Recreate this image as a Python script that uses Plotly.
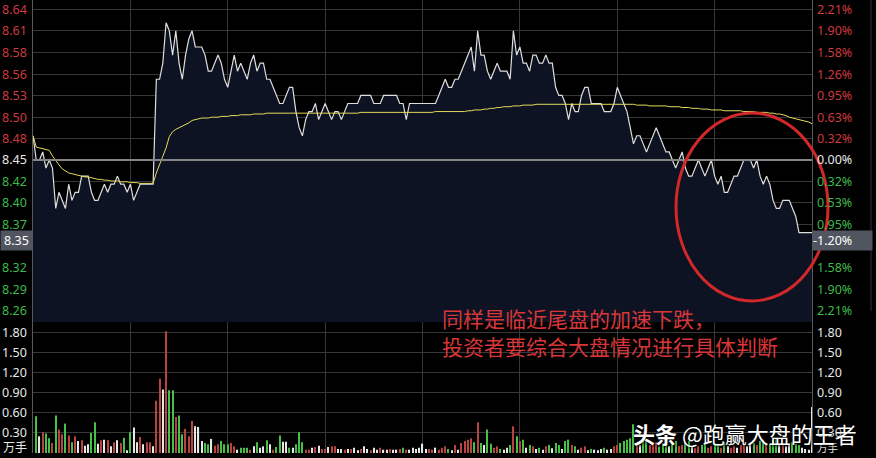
import plotly.graph_objects as go

# ---------------- data ----------------
prev_close = 8.45
current_label = 8.35

price = [
    8.48, 8.45, 8.45, 8.46, 8.44, 8.45, 8.44, 8.39, 8.41, 8.40,
    8.39, 8.42, 8.40, 8.41, 8.41, 8.43, 8.43, 8.43, 8.41, 8.40,
    8.40, 8.41, 8.42, 8.41, 8.42, 8.42, 8.43, 8.42, 8.42, 8.41,
    8.42, 8.40, 8.41, 8.42, 8.42, 8.42, 8.42, 8.42, 8.55, 8.55,
    8.57, 8.62, 8.61, 8.58, 8.61, 8.57, 8.55, 8.58, 8.60, 8.61,
    8.59, 8.59, 8.59, 8.58, 8.56, 8.56, 8.57, 8.58, 8.57, 8.55,
    8.54, 8.56, 8.58, 8.56, 8.57, 8.56, 8.55, 8.57, 8.58, 8.56,
    8.57, 8.57, 8.55, 8.55, 8.54, 8.53, 8.52, 8.52, 8.53, 8.54,
    8.54, 8.51, 8.49, 8.48, 8.50, 8.51, 8.51, 8.52, 8.50, 8.51,
    8.52, 8.51, 8.50, 8.51, 8.51, 8.50, 8.51, 8.52, 8.52, 8.52,
    8.52, 8.53, 8.53, 8.53, 8.53, 8.52, 8.52, 8.52, 8.53, 8.53,
    8.53, 8.53, 8.53, 8.52, 8.52, 8.50, 8.52, 8.52, 8.52, 8.52,
    8.52, 8.52, 8.52, 8.52, 8.52, 8.53, 8.54, 8.55, 8.54, 8.54,
    8.55, 8.55, 8.56, 8.57, 8.58, 8.59, 8.56, 8.61, 8.58, 8.58,
    8.56, 8.55, 8.56, 8.57, 8.56, 8.56, 8.56, 8.55, 8.61, 8.58,
    8.59, 8.57, 8.57, 8.56, 8.58, 8.58, 8.57, 8.57, 8.58, 8.57,
    8.57, 8.54, 8.53, 8.53, 8.52, 8.50, 8.52, 8.51, 8.51, 8.53,
    8.54, 8.54, 8.52, 8.52, 8.52, 8.52, 8.51, 8.51, 8.51, 8.52,
    8.54, 8.53, 8.52, 8.51, 8.49, 8.47, 8.48, 8.48, 8.47, 8.46,
    8.47, 8.48, 8.49, 8.48, 8.47, 8.46, 8.46, 8.45, 8.44, 8.45,
    8.46, 8.44, 8.43, 8.43, 8.44, 8.45, 8.44, 8.43, 8.44, 8.45,
    8.43, 8.42, 8.43, 8.41, 8.41, 8.42, 8.43, 8.43, 8.44, 8.45,
    8.45, 8.45, 8.44, 8.45, 8.43, 8.42, 8.43, 8.42, 8.40, 8.39,
    8.39, 8.40, 8.40, 8.40, 8.39, 8.38, 8.36, 8.36, 8.36, 8.36,
    8.36,
]

avg_price = [
    8.480, 8.466, 8.465, 8.464, 8.463, 8.462, 8.455, 8.449, 8.444, 8.439,
    8.436, 8.434, 8.433, 8.432, 8.431, 8.430, 8.429, 8.429, 8.428, 8.427,
    8.426, 8.426, 8.425, 8.425, 8.424, 8.424, 8.424, 8.423, 8.423, 8.423,
    8.422, 8.422, 8.422, 8.421, 8.421, 8.421, 8.421, 8.421, 8.434, 8.445,
    8.455, 8.465, 8.479, 8.485, 8.488, 8.490, 8.492, 8.493, 8.496, 8.499,
    8.500, 8.501, 8.502, 8.502, 8.502, 8.503, 8.503, 8.503, 8.504, 8.504,
    8.504, 8.505, 8.505, 8.505, 8.506, 8.506, 8.506, 8.506, 8.507, 8.507,
    8.507, 8.507, 8.508, 8.508, 8.508, 8.508, 8.508, 8.508, 8.508, 8.508,
    8.508, 8.508, 8.508, 8.508, 8.508, 8.508, 8.508, 8.508, 8.508, 8.508,
    8.508, 8.508, 8.508, 8.508, 8.508, 8.508, 8.508, 8.508, 8.508, 8.508,
    8.508, 8.509, 8.509, 8.509, 8.509, 8.509, 8.509, 8.509, 8.509, 8.509,
    8.509, 8.509, 8.509, 8.509, 8.509, 8.509, 8.509, 8.509, 8.509, 8.509,
    8.509, 8.509, 8.509, 8.509, 8.510, 8.510, 8.510, 8.510, 8.510, 8.510,
    8.510, 8.510, 8.510, 8.510, 8.511, 8.511, 8.512, 8.512, 8.512, 8.513,
    8.513, 8.514, 8.514, 8.515, 8.515, 8.516, 8.516, 8.516, 8.517, 8.517,
    8.517, 8.518, 8.518, 8.518, 8.518, 8.519, 8.519, 8.519, 8.519, 8.519,
    8.519, 8.519, 8.519, 8.519, 8.519, 8.519, 8.519, 8.519, 8.519, 8.519,
    8.519, 8.519, 8.519, 8.519, 8.519, 8.519, 8.519, 8.519, 8.519, 8.519,
    8.519, 8.519, 8.519, 8.519, 8.519, 8.519, 8.518, 8.518, 8.518, 8.518,
    8.517, 8.517, 8.517, 8.517, 8.517, 8.517, 8.516, 8.516, 8.516, 8.516,
    8.515, 8.515, 8.515, 8.514, 8.514, 8.514, 8.513, 8.513, 8.513, 8.512,
    8.512, 8.512, 8.512, 8.511, 8.511, 8.511, 8.511, 8.511, 8.511, 8.510,
    8.510, 8.510, 8.510, 8.509, 8.509, 8.509, 8.509, 8.508, 8.508, 8.507,
    8.507, 8.506, 8.505, 8.503, 8.502, 8.501, 8.500, 8.499, 8.498, 8.497,
    8.495,
]

volume = [
    0.00,
    0.55, 0.25, 0.31, 0.29, 0.22, 0.15, 0.56, 0.35, 0.28, 0.44,
    0.26, 0.16, 0.25, 0.18, 0.19, 0.11, 0.13, 0.30, 0.46, 0.14,
    0.19, 0.20, 0.19, 0.10, 0.16, 0.19, 0.15, 0.23, 0.04, 0.31,
    0.38, 0.16, 0.24, 0.13, 0.16, 0.16, 0.10, 0.78, 1.11, 0.95,
    1.82, 0.94, 0.94, 0.54, 0.56, 0.28, 0.36, 0.25, 0.48, 0.40,
    0.39, 0.18, 0.15, 0.13, 0.21, 0.11, 0.13, 0.18, 0.13, 0.13,
    0.15, 0.10, 0.05, 0.08, 0.08, 0.08, 0.05, 0.10, 0.16, 0.08,
    0.10, 0.19, 0.13, 0.05, 0.09, 0.26, 0.17, 0.17, 0.08, 0.08,
    0.13, 0.31, 0.16, 0.05, 0.05, 0.08, 0.09, 0.11, 0.06, 0.06,
    0.09, 0.10, 0.10, 0.06, 0.06, 0.05, 0.06, 0.06, 0.08, 0.04,
    0.06, 0.10, 0.06, 0.04, 0.08, 0.05, 0.08, 0.05, 0.05, 0.06,
    0.05, 0.05, 0.06, 0.08, 0.05, 0.05, 0.08, 0.06, 0.08, 0.14,
    0.06, 0.06, 0.05, 0.08, 0.05, 0.08, 0.10, 0.06, 0.04, 0.12,
    0.05, 0.15, 0.18, 0.20, 0.22, 0.16, 0.46, 0.15, 0.12, 0.35,
    0.14, 0.08, 0.10, 0.06, 0.05, 0.08, 0.12, 0.40, 0.25, 0.18,
    0.20, 0.08, 0.12, 0.10, 0.06, 0.08, 0.05, 0.10, 0.12, 0.07,
    0.15, 0.12, 0.06, 0.18, 0.20, 0.12, 0.10, 0.05, 0.08, 0.10,
    0.04, 0.06, 0.05, 0.04, 0.06, 0.08, 0.05, 0.06, 0.10, 0.12,
    0.15, 0.18, 0.20, 0.22, 0.43, 0.15, 0.12, 0.18, 0.22, 0.12,
    0.14, 0.16, 0.10, 0.12, 0.15, 0.10, 0.14, 0.18, 0.10, 0.12,
    0.16, 0.18, 0.10, 0.08, 0.10, 0.12, 0.14, 0.08, 0.10, 0.15,
    0.14, 0.08, 0.16, 0.10, 0.08, 0.10, 0.08, 0.12, 0.14, 0.10,
    0.12, 0.15, 0.12, 0.18, 0.20, 0.12, 0.14, 0.20, 0.22, 0.14,
    0.12, 0.10, 0.14, 0.16, 0.14, 0.12, 0.08, 0.06, 0.05, 0.69,
]

# tick direction of each minute: u = up, d = down, e = unchanged
tick_dir = ("e"
            "deudduduud" "udueueedde" "ueueueuded" "eeueuueuue"
            "uddudduuue" "eeddeuuddd" "uueddduede" "edeuddeede"
            "ddduueueuu" "euueeueuee" "ueeueeueeu" "eeudueeeee"
            "euueuuudeu" "euuuududed" "duudeedudu" "deduedeude"
            "ddeddudeuu" "edeeedeeuu" "dddddueddu" "uudddedduu"
            "ddeuudduud" "dudeuueuue" "edudduddde" "ueedddeeee")

pct_ticks = [2.21, 1.90, 1.58, 1.26, 0.95, 0.63, 0.32, 0.00,
             -0.32, -0.63, -0.95, -1.26, -1.58, -1.90, -2.21]
left_labels = ["8.64", "8.61", "8.58", "8.56", "8.53", "8.50", "8.48", "8.45",
               "8.42", "8.40", "8.37", "", "8.32", "8.29", "8.26"]
right_labels = ["2.21%", "1.90%", "1.58%", "1.26%", "0.95%", "0.63%", "0.32%", "0.00%",
                "0.32%", "0.53%", "0.95%", "", "1.58%", "1.90%", "2.21%"]
current_left = "8.35"
current_right = "-1.20%"

vol_ticks = [1.80, 1.50, 1.20, 0.90, 0.60, 0.30]
vol_labels = ["1.80", "1.50", "1.20", "0.90", "0.60", "0.30"]
vol_unit = "万手"

note_line1 = "同样是临近尾盘的加速下跌，"
note_line2 = "投资者要综合大盘情况进行具体判断"
watermark = "<b>头条</b> @跑赢大盘的王者"

# ---------------- figure ----------------
minutes = list(range(len(price)))
dir_color = {"u": "#b8433f", "d": "#46c046", "e": "#e6e6e6"}
bar_colors = [dir_color[c] for c in tick_dir]
price_tick_vals = [prev_close * (1 + p / 100.0) for p in pct_ticks]

W, H = 876, 458
L, R, T, B = 33, 64, 0, 5
pw, ph = W - L - R, H - T - B


def px_x(x):
    return (x - L) / pw


def px_y(y):
    return (H - B - y) / ph


split = px_y(322)
grid = "#383838"

fig = go.Figure()
fig.add_trace(go.Scatter(x=minutes, y=price, mode="lines",
                         line=dict(color="#dedede", width=1.2),
                         fill="tozeroy", fillcolor="#0d1322",
                         xaxis="x", yaxis="y", hoverinfo="skip"))
fig.add_trace(go.Scatter(x=minutes, y=avg_price, mode="lines",
                         line=dict(color="#e3da5c", width=1),
                         xaxis="x", yaxis="y", hoverinfo="skip"))
fig.add_trace(go.Bar(x=minutes, y=volume, width=0.35,
                     marker=dict(color=bar_colors, line=dict(width=0)),
                     xaxis="x2", yaxis="y2", hoverinfo="skip"))

xcommon = dict(range=[0, len(price) - 1], tickvals=[30, 60, 90, 120, 150, 180, 210],
               showticklabels=False, showgrid=True, gridcolor=grid, gridwidth=1,
               zeroline=False, showline=False, ticks="")
fig.update_layout(
    width=W, height=H,
    margin=dict(l=L, r=R, t=T, b=B),
    paper_bgcolor="#000000", plot_bgcolor="#000000",
    showlegend=False,
    xaxis=dict(anchor="y", domain=[0, 1], **xcommon),
    xaxis2=dict(anchor="y2", domain=[0, 1], **xcommon),
    yaxis=dict(domain=[split, 1], range=[8.2493, 8.6482], tickvals=price_tick_vals,
               showticklabels=False, showgrid=True, gridcolor=grid, zeroline=False,
               showline=True, mirror=True, linecolor="#5a5a5a", ticks=""),
    yaxis2=dict(domain=[0, split], range=[0, 1.96], tickvals=vol_ticks,
                showticklabels=False, showgrid=True, gridcolor=grid, zeroline=False,
                showline=True, mirror=True, linecolor="#5a5a5a", ticks=""),
)

shapes = [
    dict(type="line", xref="paper", yref="y", x0=0, x1=1, y0=prev_close, y1=prev_close,
         line=dict(color="#858585", width=2)),
    dict(type="line", xref="paper", yref="paper", x0=px_x(871), x1=px_x(871),
         y0=px_y(311), y1=1, line=dict(color="#303030", width=1)),
    dict(type="circle", xref="paper", yref="paper",
         x0=px_x(676), x1=px_x(828), y0=px_y(301), y1=px_y(113),
         line=dict(color="#d2282a", width=3)),
]
fig.update_layout(shapes=shapes)

ann = []
lab_font = "Noto Sans"
for v, lt, rt, p in zip(price_tick_vals, left_labels, right_labels, pct_ticks):
    if p > 0:
        col = "#cc3a3f"
    elif p < 0:
        col = "#3fb94c"
    else:
        col = "#e8e8e8"
    if lt:
        ann.append(dict(x=px_x(29), y=v, xref="paper", yref="y", text=lt, showarrow=False,
                        xanchor="right", yanchor="middle",
                        font=dict(family=lab_font, size=12.5, color=col)))
    if rt:
        ann.append(dict(x=px_x(815), y=v, xref="paper", yref="y", text=rt, showarrow=False,
                        xanchor="left", yanchor="middle",
                        font=dict(family=lab_font, size=12.5, color=col)))

ann.append(dict(x=px_x(0), y=current_label, xref="paper", yref="y", text=current_left,
                showarrow=False, xanchor="left", yanchor="middle", width=31, height=19,
                bgcolor="#51555f", borderpad=0, align="center",
                font=dict(family=lab_font, size=12.5, color="#ffffff")))
ann.append(dict(x=px_x(812), y=current_label, xref="paper", yref="y", text=current_right,
                showarrow=False, xanchor="left", yanchor="middle", width=59, height=19,
                bgcolor="#51555f", borderpad=0, align="left",
                font=dict(family=lab_font, size=12.5, color="#ffffff")))

for v, t in zip(vol_ticks, vol_labels):
    ann.append(dict(x=px_x(29), y=v, xref="paper", yref="y2", text=t, showarrow=False,
                    xanchor="right", yanchor="middle",
                    font=dict(family=lab_font, size=12.5, color="#e8e8e8")))
    ann.append(dict(x=px_x(815), y=v, xref="paper", yref="y2", text=t, showarrow=False,
                    xanchor="left", yanchor="middle",
                    font=dict(family=lab_font, size=12.5, color="#e8e8e8")))
ann.append(dict(x=px_x(1), y=px_y(446), xref="paper", yref="paper", text=vol_unit,
                showarrow=False, xanchor="left", yanchor="middle",
                font=dict(family="Noto Sans CJK SC", size=12, color="#e8e8e8")))
ann.append(dict(x=px_x(815), y=px_y(447), xref="paper", yref="paper", text=vol_unit,
                showarrow=False, xanchor="left", yanchor="middle",
                font=dict(family="Noto Sans CJK SC", size=10.5, color="#e8e8e8")))

ann.append(dict(x=px_x(440), y=px_y(318), xref="paper", yref="paper", text=note_line1,
                showarrow=False, xanchor="left", yanchor="middle",
                font=dict(family="Noto Sans CJK SC", size=21, color="#d9363a")))
ann.append(dict(x=px_x(440), y=px_y(346), xref="paper", yref="paper", text=note_line2,
                showarrow=False, xanchor="left", yanchor="middle",
                font=dict(family="Noto Sans CJK SC", size=21, color="#d9363a")))
ann.append(dict(x=px_x(631), y=px_y(433), xref="paper", yref="paper", text=watermark,
                showarrow=False, xanchor="left", yanchor="middle",
                font=dict(family="Noto Sans CJK SC", size=22, color="#ffffff",
                          shadow="1px 1px 3px #000000")))

fig.update_layout(annotations=ann)
fig.write_html("out.html",
               config={"displayModeBar": False},
               post_script="document.body.style.margin='0';document.body.style.background='#000';")
